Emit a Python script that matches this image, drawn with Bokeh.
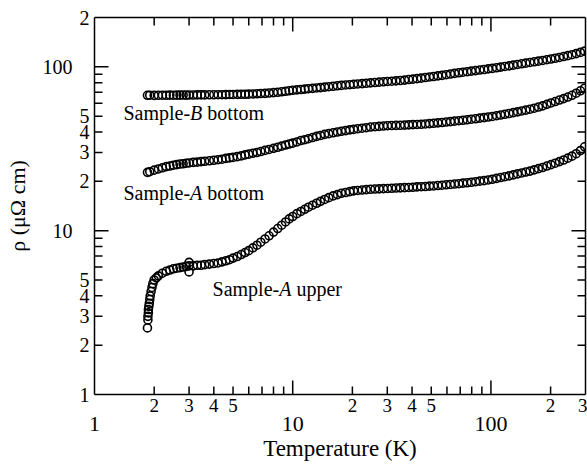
import math
from bokeh.plotting import figure
from bokeh.models import LogAxis, FixedTicker, Range1d, Label
from bokeh.embed import file_html
from bokeh.resources import INLINE

# ---------------- data ----------------
temperature = [1.85, 1.9, 2.0, 2.1, 2.2, 2.3, 2.4, 2.5, 2.6, 2.7, 2.8, 2.9, 3.0, 3.15, 3.3, 3.45,
               3.6, 3.8, 4.0, 4.2, 4.4, 4.6, 4.8, 5.0, 5.25, 5.5, 5.75, 6.0, 6.3, 6.6, 6.9, 7.25,
               7.6, 8.0, 8.4, 8.8, 9.2, 9.6, 10, 10.5, 11, 11.5, 12, 12.6, 13.2, 13.8, 14.5, 15.2,
               16, 16.8, 17.6, 18.5, 19.4, 20.3, 21.3, 22.4, 23.5, 24.7, 26, 27.3, 28.7, 30.1,
               31.6, 33.2, 34.9, 36.7, 38.5, 40.4, 42.4, 44.5, 46.7, 49, 51.4, 54, 56.7, 59.5,
               62.5, 65.6, 68.9, 72.3, 75.9, 79.7, 83.7, 87.9, 92.3, 96.9, 101.7, 106.8, 112,
               117.6, 123.5, 129.7, 136.2, 143, 150, 157.5, 165.4, 173.7, 182.4, 191.5, 201, 211,
               221.6, 232.7, 244.3, 256.5, 269.3, 282.8, 296.9]

rho_B_bottom = [67.0, 67.1, 66.9, 67.0, 67.1, 67.0, 67.2, 67.1, 67.2, 67.2, 67.3, 67.2, 67.3, 67.3,
                67.4, 67.4, 67.4, 67.5, 67.5, 67.6, 67.6, 67.7, 67.8, 67.8, 67.9, 68.0, 68.0, 68.1,
                68.3, 68.5, 68.7, 68.9, 69.2, 69.6, 69.9, 70.4, 70.9, 71.4, 71.9, 72.3, 72.7, 73.1,
                73.5, 73.9, 74.3, 74.7, 75.2, 75.6, 76.1, 76.6, 77.0, 77.5, 77.8, 78.2, 78.6, 79.0,
                79.4, 79.8, 80.2, 80.6, 81.0, 81.4, 81.7, 82.1, 82.5, 83.0, 83.6, 84.1, 84.7, 85.3,
                86.0, 86.7, 87.3, 88.0, 88.7, 89.5, 90.4, 91.2, 92.0, 92.7, 93.4, 94.1, 94.8, 95.6,
                96.3, 97.1, 97.8, 98.7, 99.6, 100.5, 101.4, 102.4, 103.4, 104.3, 105.3, 106.3,
                107.3, 108.3, 109.4, 110.5, 111.6, 112.8, 114.1, 115.5, 117.0, 118.6, 120.4, 122.5,
                124.6]

rho_A_bottom = [22.7, 22.9, 23.4, 23.8, 24.2, 24.6, 24.8, 25.1, 25.3, 25.5, 25.6, 25.8, 25.9, 26.1,
                26.2, 26.4, 26.5, 26.7, 26.9, 27.1, 27.3, 27.6, 27.8, 28.0, 28.3, 28.6, 29.0, 29.3,
                29.7, 30.0, 30.4, 30.9, 31.3, 31.8, 32.3, 32.8, 33.3, 33.8, 34.2, 34.8, 35.5, 35.9,
                36.4, 37.0, 37.6, 38.1, 38.7, 39.1, 39.6, 40.0, 40.4, 40.8, 41.2, 41.5, 41.9, 42.2,
                42.5, 42.9, 43.1, 43.3, 43.5, 43.7, 43.8, 43.9, 44.0, 44.1, 44.2, 44.4, 44.5, 44.6,
                44.8, 45.0, 45.2, 45.5, 45.7, 46.0, 46.3, 46.6, 46.9, 47.2, 47.5, 47.9, 48.2, 48.6,
                49.0, 49.4, 49.8, 50.3, 50.8, 51.3, 51.9, 52.5, 53.1, 53.8, 54.4, 55.1, 55.9, 56.8,
                57.8, 59.0, 60.2, 61.4, 62.7, 64.0, 65.4, 67.0, 69.0, 71.4, 74.0]

temperature_A_upper = [1.85, 1.86, 1.86, 1.87, 1.87, 1.88, 1.89, 1.9, 1.91, 1.93, 1.95, 1.97, 2.0,
                       2.05, 2.1, 2.2, 2.3, 2.4, 2.5, 2.6, 2.7, 2.8, 2.9, 3.0, 3.0, 3.0, 3.15, 3.3,
                       3.45, 3.6, 3.8, 4.0, 4.2, 4.4, 4.6, 4.8, 5.0, 5.25, 5.5, 5.75, 6.0, 6.3, 6.6,
                       6.9, 7.25, 7.6, 8.0, 8.4, 8.8, 9.2, 9.6, 10, 10.5, 11, 11.5, 12, 12.6, 13.2,
                       13.8, 14.5, 15.2, 16, 16.8, 17.6, 18.5, 19.4, 20.3, 21.3, 22.4, 23.5, 24.7,
                       26, 27.3, 28.7, 30.1, 31.6, 33.2, 34.9, 36.7, 38.5, 40.4, 42.4, 44.5, 46.7,
                       49, 51.4, 54, 56.7, 59.5, 62.5, 65.6, 68.9, 72.3, 75.9, 79.7, 83.7, 87.9,
                       92.3, 96.9, 101.7, 106.8, 112, 117.6, 123.5, 129.7, 136.2, 143, 150, 157.5,
                       165.4, 173.7, 182.4, 191.5, 201, 211, 221.6, 232.7, 244.3, 256.5, 269.3,
                       282.8, 296.9]

rho_A_upper = [2.55, 2.85, 3.0, 3.15, 3.3, 3.45, 3.6, 3.8, 4.0, 4.25, 4.5, 4.75, 5.0, 5.15, 5.3,
               5.5, 5.65, 5.75, 5.85, 5.9, 5.95, 6.0, 6.05, 6.1, 6.4, 5.6, 6.1, 6.15, 6.15, 6.2,
               6.25, 6.3, 6.35, 6.45, 6.55, 6.65, 6.8, 6.95, 7.15, 7.35, 7.55, 7.85, 8.15, 8.5,
               8.9, 9.3, 9.8, 10.3, 10.8, 11.3, 11.8, 12.2, 12.7, 13.1, 13.5, 13.9, 14.3, 14.7,
               15.1, 15.5, 15.9, 16.3, 16.6, 16.9, 17.1, 17.3, 17.5, 17.6, 17.7, 17.8, 17.9,
               17.95, 18.0, 18.05, 18.1, 18.15, 18.2, 18.25, 18.3, 18.35, 18.4, 18.5, 18.55,
               18.6, 18.7, 18.75, 18.85, 18.95, 19.05, 19.15, 19.25, 19.35, 19.5, 19.6, 19.75,
               19.9, 20.05, 20.2, 20.4, 20.6, 20.85, 21.1, 21.35, 21.6, 21.9, 22.2, 22.5, 22.8,
               23.1, 23.5, 23.9, 24.3, 24.8, 25.3, 25.8, 26.4, 27.0, 27.7, 28.5, 29.5, 30.8, 32.5]

# ---------------- ticks and labels ----------------
y_labeled_ticks = [1, 2, 3, 4, 5, 20, 30, 40, 50, 200]
y_labeled_texts = ["1", "2", "3", "4", "5", "2", "3", "4", "5", "2"]
y_plain_ticks = [6, 7, 8, 9, 60, 70, 80, 90]
y_decade_ticks = [10, 100]
y_decade_texts = ["10", "100"]

x_labeled_ticks = [2, 3, 4, 5, 20, 30, 40, 50, 200, 300]
x_labeled_texts = ["2", "3", "4", "5", "2", "3", "4", "5", "2", "3"]
x_plain_ticks = [6, 7, 8, 9, 60, 70, 80, 90]
x_decade_ticks = [1, 10, 100]
x_decade_texts = ["1", "10", "100"]

X_MIN, X_MAX = 1, 300
Y_MIN, Y_MAX = 1, 200
FONT = "Liberation Serif"

p = figure(width=587, height=464,
           x_range=Range1d(X_MIN, X_MAX), y_range=Range1d(Y_MIN, Y_MAX),
           x_axis_type="log", y_axis_type="log",
           x_axis_location=None, y_axis_location=None,
           output_backend="svg", toolbar_location=None,
           min_border_left=94, min_border_right=2, min_border_top=17, min_border_bottom=70)
p.outline_line_color = None
p.background_fill_color = "white"
p.border_fill_color = "white"
p.grid.visible = False


def frame_axis(labeled, texts, plain, font_size, show_labels=True, standoff=4):
    ticks = sorted(labeled + plain)
    ax = LogAxis(ticker=FixedTicker(ticks=ticks, minor_ticks=[]))
    over = {t: "" for t in plain}
    if show_labels:
        over.update({t: s for t, s in zip(labeled, texts)})
        ax.major_label_text_font_size = font_size
    else:
        over.update({t: "" for t in labeled})
        ax.major_label_text_font_size = "0px"
    ax.major_label_overrides = over
    ax.major_label_text_font = FONT
    ax.major_label_text_color = "black"
    ax.major_label_standoff = standoff
    ax.axis_line_color = "black"
    ax.axis_line_width = 1.5
    ax.major_tick_in = 0
    ax.major_tick_out = 0
    ax.minor_tick_in = 0
    ax.minor_tick_out = 0
    ax.major_tick_line_color = None
    ax.minor_tick_line_color = None
    return ax


def label_axis(ticks, texts, font_size, standoff, title, title_size, title_standoff):
    ax = LogAxis(ticker=FixedTicker(ticks=ticks, minor_ticks=[]))
    ax.major_label_overrides = {t: s for t, s in zip(ticks, texts)}
    ax.major_label_text_font = FONT
    ax.major_label_text_font_size = font_size
    ax.major_label_text_color = "black"
    ax.major_label_standoff = standoff
    ax.axis_line_color = None
    ax.major_tick_line_color = None
    ax.minor_tick_line_color = None
    ax.major_tick_in = 0
    ax.major_tick_out = 0
    ax.minor_tick_in = 0
    ax.minor_tick_out = 0
    ax.axis_label = title
    ax.axis_label_text_font = FONT
    ax.axis_label_text_font_size = title_size
    ax.axis_label_text_font_style = "normal"
    ax.axis_label_text_color = "black"
    ax.axis_label_standoff = title_standoff
    return ax


# inner axes (frame lines + small labels), outer axes (decade labels + titles)
p.add_layout(frame_axis(y_labeled_ticks, y_labeled_texts, y_plain_ticks, "20px", True, 5), "left")
p.add_layout(label_axis(y_decade_ticks, y_decade_texts, "20px", 4, "ρ (μΩ cm)", "22px", 10), "left")
p.add_layout(frame_axis(x_labeled_ticks, x_labeled_texts, x_plain_ticks, "19px", True, 4), "below")
p.add_layout(label_axis(x_decade_ticks, x_decade_texts, "22px", 2, "Temperature (K)", "23px", 2), "below")
p.add_layout(frame_axis(x_labeled_ticks, x_labeled_texts, x_plain_ticks, "0px", False, 0), "above")
p.add_layout(frame_axis(y_labeled_ticks, y_labeled_texts, y_plain_ticks, "0px", False, 0), "right")

# inward tick marks on all four sides (short: 2-9, long: decades)
SHORT, LONG = 8, 14
tick_kw = dict(length_units="screen", line_color="black", line_width=1.5)
x_short = [t for t in sorted(x_labeled_ticks + x_plain_ticks) if X_MIN < t < X_MAX]
y_short = [t for t in sorted(y_labeled_ticks + y_plain_ticks) if Y_MIN < t < Y_MAX]
x_long = [t for t in x_decade_ticks if X_MIN < t < X_MAX]
y_long = [t for t in y_decade_ticks if Y_MIN < t < Y_MAX]
for xs, ln in ((x_short, SHORT), (x_long, LONG)):
    p.ray(x=xs, y=[Y_MIN] * len(xs), length=ln, angle=math.pi / 2, **tick_kw)
    p.ray(x=xs, y=[Y_MAX] * len(xs), length=ln, angle=-math.pi / 2, **tick_kw)
for ys, ln in ((y_short, SHORT), (y_long, LONG)):
    p.ray(x=[X_MIN] * len(ys), y=ys, length=ln, angle=0, **tick_kw)
    p.ray(x=[X_MAX] * len(ys), y=ys, length=ln, angle=math.pi, **tick_kw)

# data
marker_kw = dict(marker="circle", size=8, fill_color=None, line_color="black", line_width=1.6)
p.scatter(temperature, rho_B_bottom, **marker_kw)
p.scatter(temperature, rho_A_bottom, **marker_kw)
p.scatter(temperature_A_upper, rho_A_upper, **marker_kw)

# annotations: "Sample-" + italic letter + rest
annotations = [
    (1.40, 52.5, "B", "bottom"),
    (1.40, 17.0, "A", "bottom"),
    (3.94, 4.43, "A", "upper"),
]
fs = 20
for x, y, letter, rest in annotations:
    common = dict(x=x, y=y, text_font=FONT, text_font_size=f"{fs}px", text_color="black",
                  text_baseline="alphabetic", text_align="left")
    p.add_layout(Label(text="Sample-", x_offset=0, **common))
    p.add_layout(Label(text=letter, x_offset=3.333 * fs, text_font_style="italic", **common))
    p.add_layout(Label(text=rest, x_offset=(3.333 + 0.611 + 0.25) * fs, **common))

open("out.html", "w").write(file_html(p, INLINE))
